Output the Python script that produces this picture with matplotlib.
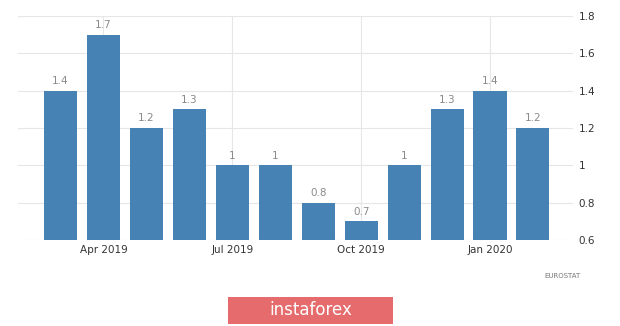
import matplotlib
matplotlib.use('Agg')
import matplotlib.pyplot as plt
from matplotlib.patches import FancyBboxPatch
import numpy as np

# monthly values, Mar 2019 .. Feb 2020
months = ['Mar 2019', 'Apr 2019', 'May 2019', 'Jun 2019', 'Jul 2019', 'Aug 2019',
          'Sep 2019', 'Oct 2019', 'Nov 2019', 'Dec 2019', 'Jan 2020', 'Feb 2020']
values = [1.4, 1.7, 1.2, 1.3, 1.0, 1.0, 0.8, 0.7, 1.0, 1.3, 1.4, 1.2]
value_labels = ['1.4', '1.7', '1.2', '1.3', '1', '1', '0.8', '0.7', '1', '1.3', '1.4', '1.2']
shown_months = ['Apr 2019', 'Jul 2019', 'Oct 2019', 'Jan 2020']
yticks = [0.6, 0.8, 1.0, 1.2, 1.4, 1.6, 1.8]
ytick_labels = ['0.6', '0.8', '1', '1.2', '1.4', '1.6', '1.8']

fig = plt.figure(figsize=(6.2, 3.26), dpi=100)
ax = fig.add_axes([0.029, 0.264, 0.895, 0.687])

x = np.arange(len(months))
base = 0.6
ax.bar(x, np.array(values) - base, bottom=base, width=0.77, color='#4682b4', zorder=2)

for xi, v, lab in zip(x, values, value_labels):
    ax.text(xi, v + 0.025, lab, ha='center', va='bottom', fontsize=7.5, color='#8a8a8a')

ax.set_xlim(-0.99, 11.93)
ax.set_ylim(0.6, 1.8)
ax.set_yticks(yticks)
ax.set_yticklabels(ytick_labels)
ax.yaxis.tick_right()
pos = [months.index(m) for m in shown_months]
ax.set_xticks(pos)
ax.set_xticklabels(shown_months)
ax.tick_params(axis='both', length=0, labelsize=7.5, colors='#333333')
ax.tick_params(axis='y', pad=4)
ax.tick_params(axis='x', pad=4)
ax.grid(True, color='#e6e6e6', lw=0.8, zorder=0)
ax.set_axisbelow(True)
for sp in ax.spines.values():
    sp.set_visible(False)

fig.text(0.908, 0.153, 'EUROSTAT', fontsize=5, color='#777777', ha='center', va='center')

box = FancyBboxPatch((0.368, 0.006), 0.266, 0.083, boxstyle='square,pad=0',
                     transform=fig.transFigure, facecolor='#e66b6d', edgecolor='none')
fig.patches.append(box)
fig.text(0.501, 0.048, 'instaforex', fontsize=12, color='white', ha='center', va='center')

fig.savefig('out.png', dpi=100)
